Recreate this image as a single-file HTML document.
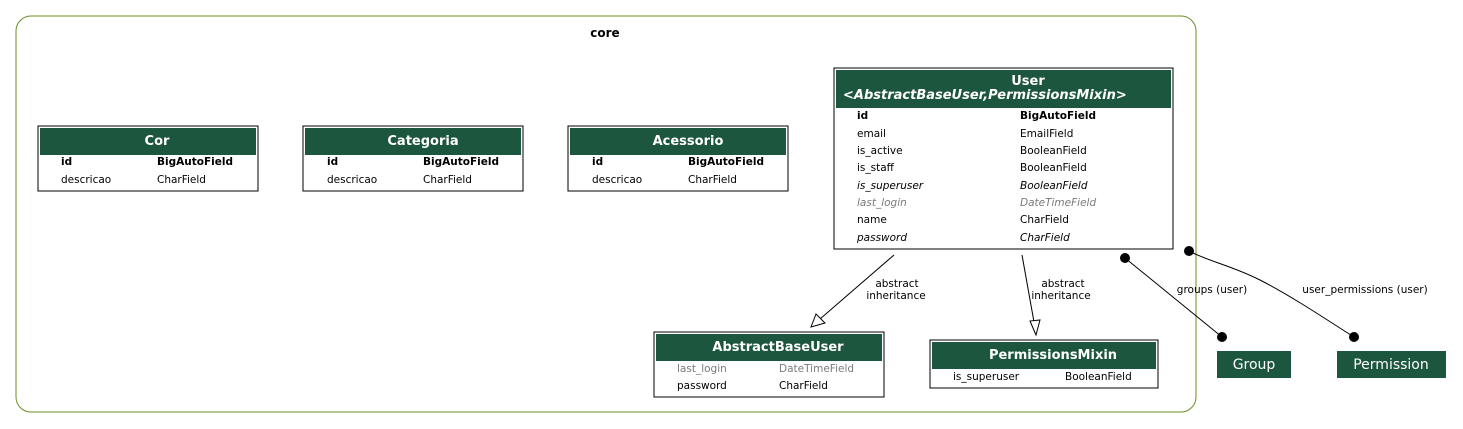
<!DOCTYPE html>
<html><head><meta charset="utf-8"><style>
html,body{margin:0;padding:0;background:#fff;}
svg{display:block;font-family:"DejaVu Sans","Liberation Sans",sans-serif;}
.r{font-size:10.5px;fill:#000}
.b{font-weight:bold}
.i{font-style:italic}
.g{fill:#7a7a7a}
.h{font-size:13px;font-weight:bold;fill:#fff}
.l{font-size:10.5px;fill:#000}
</style></head><body>
<svg width="1463" height="429" viewBox="0 0 1463 429" xmlns="http://www.w3.org/2000/svg">
<rect x="16" y="16" width="1180" height="396" rx="15" fill="none" stroke="#6b8e23" stroke-width="1"/>
<text x="605" y="37" text-anchor="middle" style="font-size:12px;font-weight:bold">core</text>

<!-- Cor -->
<rect x="38" y="126" width="220" height="65" fill="#fff" stroke="#000"/>
<rect x="40" y="128" width="216" height="27" fill="#1c563e"/>
<text x="157" y="145" text-anchor="middle" class="h">Cor</text>
<text x="61" y="165" class="r b">id</text><text x="157" y="165" class="r b">BigAutoField</text>
<text x="61" y="183" class="r">descricao</text><text x="157" y="183" class="r">CharField</text>

<!-- Categoria -->
<rect x="303" y="126" width="220" height="65" fill="#fff" stroke="#000"/>
<rect x="305" y="128" width="216" height="27" fill="#1c563e"/>
<text x="423" y="145" text-anchor="middle" class="h">Categoria</text>
<text x="327" y="165" class="r b">id</text><text x="423" y="165" class="r b">BigAutoField</text>
<text x="327" y="183" class="r">descricao</text><text x="423" y="183" class="r">CharField</text>

<!-- Acessorio -->
<rect x="568" y="126" width="220" height="65" fill="#fff" stroke="#000"/>
<rect x="570" y="128" width="216" height="27" fill="#1c563e"/>
<text x="688" y="145" text-anchor="middle" class="h">Acessorio</text>
<text x="592" y="165" class="r b">id</text><text x="688" y="165" class="r b">BigAutoField</text>
<text x="592" y="183" class="r">descricao</text><text x="688" y="183" class="r">CharField</text>

<!-- User -->
<rect x="834" y="68" width="339" height="181" fill="#fff" stroke="#000"/>
<rect x="836" y="70" width="335" height="38" fill="#1c563e"/>
<text x="1028" y="85" text-anchor="middle" class="h">User</text>
<text x="843" y="99" class="h i">&lt;AbstractBaseUser,PermissionsMixin&gt;</text>
<text x="857" y="119" class="r b">id</text><text x="1020" y="119" class="r b">BigAutoField</text>
<text x="857" y="137" class="r">email</text><text x="1020" y="137" class="r">EmailField</text>
<text x="857" y="154" class="r">is_active</text><text x="1020" y="154" class="r">BooleanField</text>
<text x="857" y="171" class="r">is_staff</text><text x="1020" y="171" class="r">BooleanField</text>
<text x="857" y="189" class="r i">is_superuser</text><text x="1020" y="189" class="r i">BooleanField</text>
<text x="857" y="206" class="r i g">last_login</text><text x="1020" y="206" class="r i g">DateTimeField</text>
<text x="857" y="223" class="r">name</text><text x="1020" y="223" class="r">CharField</text>
<text x="857" y="241" class="r i">password</text><text x="1020" y="241" class="r i">CharField</text>

<!-- AbstractBaseUser -->
<rect x="654" y="332" width="230" height="65" fill="#fff" stroke="#000"/>
<rect x="656" y="334" width="226" height="27" fill="#1c563e"/>
<text x="778" y="351" text-anchor="middle" class="h">AbstractBaseUser</text>
<text x="677" y="372" class="r g">last_login</text><text x="779" y="372" class="r g">DateTimeField</text>
<text x="677" y="389" class="r">password</text><text x="779" y="389" class="r">CharField</text>

<!-- PermissionsMixin -->
<rect x="930" y="340" width="228" height="48" fill="#fff" stroke="#000"/>
<rect x="932" y="342" width="224" height="27" fill="#1c563e"/>
<text x="1053" y="359" text-anchor="middle" class="h">PermissionsMixin</text>
<text x="953" y="380" class="r">is_superuser</text><text x="1065" y="380" class="r">BooleanField</text>

<!-- Group / Permission -->
<rect x="1217" y="351" width="74" height="27" fill="#1c563e"/>
<text x="1254" y="369" text-anchor="middle" style="font-size:14px;fill:#fff">Group</text>
<rect x="1337" y="351" width="109" height="27" fill="#1c563e"/>
<text x="1391" y="369" text-anchor="middle" style="font-size:14px;fill:#fff">Permission</text>

<!-- edges -->
<line x1="894" y1="255" x2="820" y2="319" stroke="#000"/>
<polygon points="811,327 816,314 825,323" fill="#fff" stroke="#000"/>
<text x="897" y="287" text-anchor="middle" class="l">abstract</text>
<text x="896" y="299" text-anchor="middle" class="l">inheritance</text>

<line x1="1022" y1="255" x2="1034" y2="322" stroke="#000"/>
<polygon points="1036,335 1030,321 1040,320" fill="#fff" stroke="#000"/>
<text x="1063" y="287" text-anchor="middle" class="l">abstract</text>
<text x="1061" y="299" text-anchor="middle" class="l">inheritance</text>

<line x1="1125" y1="258" x2="1222" y2="337" stroke="#000"/>
<circle cx="1125" cy="258" r="5" fill="#000"/>
<circle cx="1222" cy="337" r="5" fill="#000"/>
<text x="1212" y="293" text-anchor="middle" class="l">groups (user)</text>

<path d="M1189,251 C1210,262 1230,265 1260,280 C1295,298 1330,322 1354,337" fill="none" stroke="#000"/>
<circle cx="1189" cy="251" r="5" fill="#000"/>
<circle cx="1354" cy="337" r="5" fill="#000"/>
<text x="1365" y="293" text-anchor="middle" class="l">user_permissions (user)</text>
</svg>
</body></html>
